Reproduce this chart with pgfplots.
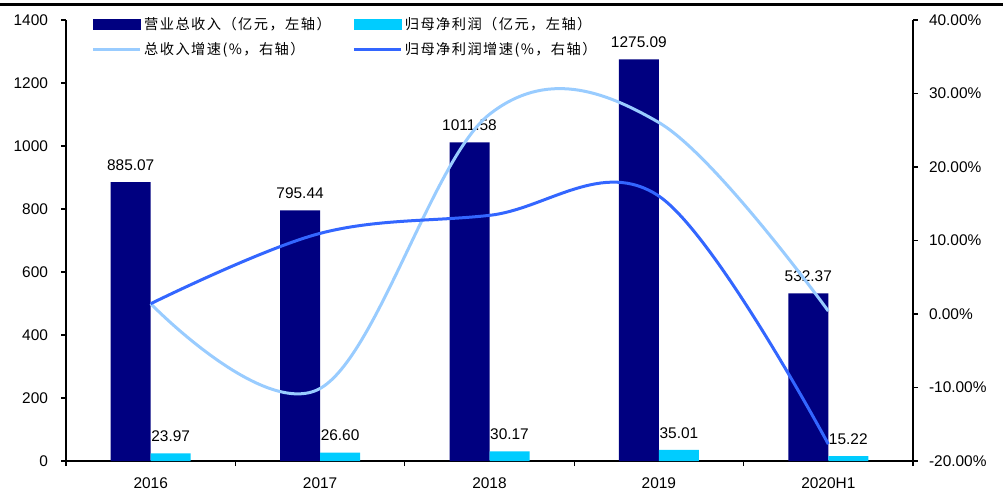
\documentclass[border=0pt]{standalone}
\usepackage{pgfplots}
\pgfplotsset{compat=1.18}
\usepackage{fontspec}
\setmainfont{Liberation Sans}
\newfontfamily\cjk[LetterSpace=10]{Noto Sans CJK SC}
\definecolor{navybar}{RGB}{0,0,128}
\definecolor{cyanbar}{RGB}{0,204,255}
\definecolor{lightline}{RGB}{153,204,255}
\definecolor{darkline}{RGB}{51,102,255}
\begin{document}
\begin{tikzpicture}
\path[use as bounding box] (-66bp,-29bp) rectangle (937bp,461bp);
\draw[line width=3bp] (-66bp,456bp) -- (937bp,456bp);
\begin{axis}[
  at={(0,0)}, anchor=south west, scale only axis,
  width=847bp, height=441bp,
  xmin=-0.5, xmax=4.5, ymin=0, ymax=1400,
  axis y line*=left, axis x line*=bottom,
  axis line style={-, line width=1.2bp},
  xtick={0,...,4}, xticklabels={2016,2017,2018,2019,2020H1},
  major x tick style={draw=none},
  minor xtick={-0.5,0.5,...,4.5},
  ytick={0,200,...,1400},
  tick align=outside,
  major tick length=4.5bp, minor tick length=5bp,
  tick style={line width=1.2bp, black},
  every tick label/.append style={font=\fontsize{15.5}{18}\selectfont},
  xticklabel style={yshift=-9bp},
  yticklabel style={xshift=-10bp},
  /pgf/number format/assume math mode=true,
  /pgf/number format/1000 sep={},
  ybar, bar width=40bp,
  nodes near coords={\pgfmathprintnumber[fixed,fixed zerofill,precision=2,1000 sep={},assume math mode=true]{\pgfplotspointmeta}},
  every node near coord/.append style={font=\fontsize{15.5}{18}\selectfont, black, yshift=8bp},
  clip=false,
]
\addplot[fill=navybar, draw=none, bar shift=-20bp] coordinates {(0,885.07) (1,795.44) (2,1011.58) (3,1275.09) (4,532.37)};
\addplot[fill=cyanbar, draw=none, bar shift=20bp] coordinates {(0,23.97) (1,26.60) (2,30.17) (3,35.01) (4,15.22)};
\end{axis}
\begin{axis}[
  at={(0,0)}, anchor=south west, scale only axis,
  width=847bp, height=441bp,
  xmin=-0.5, xmax=4.5, ymin=-20, ymax=40,
  axis y line*=right, axis x line=none,
  axis line style={-, line width=1.2bp},
  ytick={-20,-10,...,40},
  yticklabels={-20.00\%,-10.00\%,0.00\%,10.00\%,20.00\%,30.00\%,40.00\%},
  tick align=outside,
  major tick length=4.5bp,
  tick style={line width=1.2bp, black},
  every tick label/.append style={font=\fontsize{15.5}{18}\selectfont},
  yticklabel style={xshift=8bp},
  legend columns=2,
  legend cell align=left,
  legend style={at={(axis description cs:0.0301,1.013)}, anchor=north west, draw=none, fill=none,
    font=\cjk\fontsize{14.3}{17}\selectfont, inner sep=0pt, row sep=7bp,
    nodes={inner sep=2.5bp},
    /tikz/every even column/.append style={column sep=19bp}},
  clip=false,
]
\addlegendimage{legend image code/.code={\fill[navybar] (0bp,-5bp) rectangle (47bp,5bp);}}
\addlegendentry{营业总收入（亿元，左轴）}
\addlegendimage{legend image code/.code={\fill[cyanbar] (0bp,-5bp) rectangle (47bp,5bp);}}
\addlegendentry{归母净利润（亿元，左轴）}
\addplot[color=lightline, line width=3bp, smooth, tension=0.6, no marks,
  legend image code/.code={\draw[lightline, line width=3bp] (0bp,0bp) -- (47bp,0bp);}]
  coordinates {(0,1.4) (1,-10.13) (2,27.17) (3,26.05) (4,0.4)};
\addlegendentry{总收入增速(\%，右轴）}
\addplot[color=darkline, line width=3bp, smooth, tension=0.6, no marks,
  legend image code/.code={\draw[darkline, line width=3bp] (0bp,0bp) -- (47bp,0bp);}]
  coordinates {(0,1.4) (1,10.97) (2,13.42) (3,16.04) (4,-17.7)};
\addlegendentry{归母净利润增速(\%，右轴）}
\end{axis}
\end{tikzpicture}
\end{document}
